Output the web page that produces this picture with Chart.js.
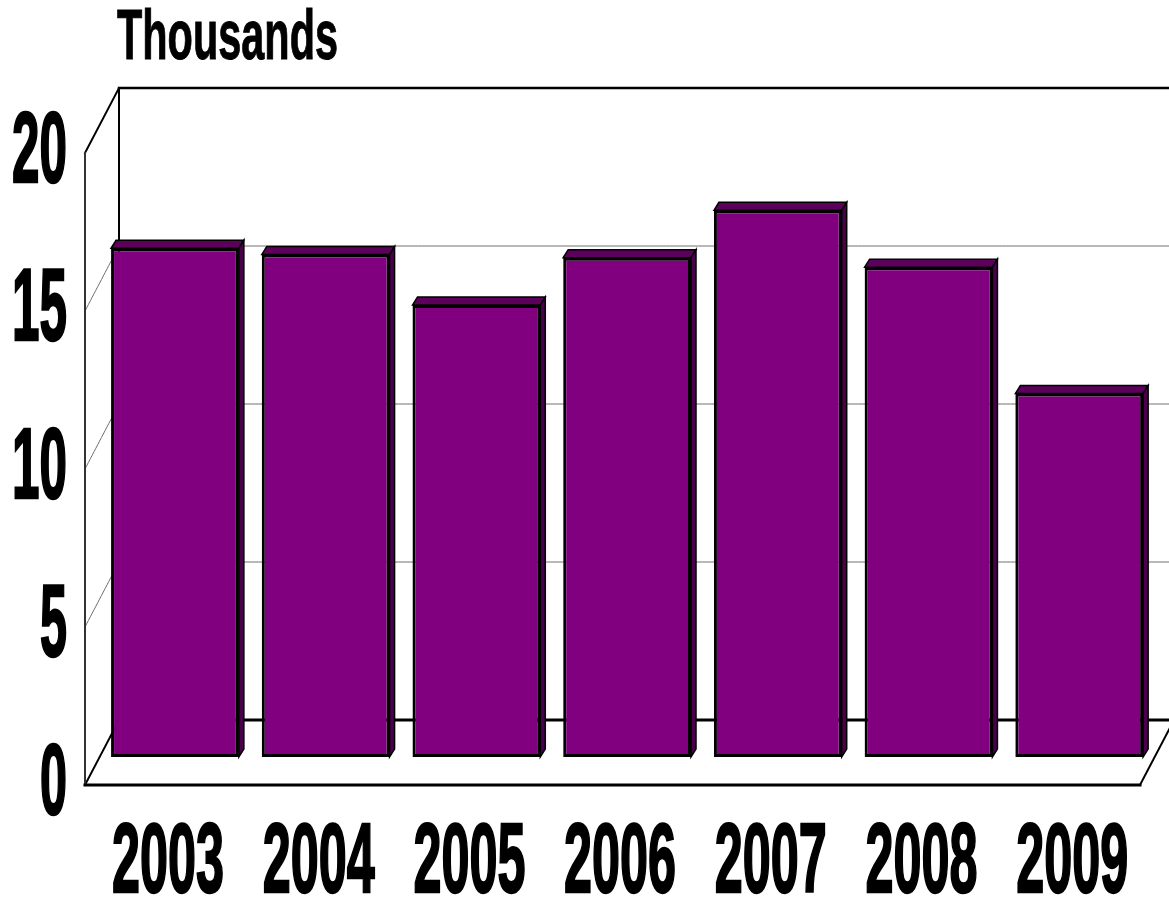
<!DOCTYPE html>
<html>
<head>
<meta charset="utf-8">
<script src="https://cdn.jsdelivr.net/npm/chart.js@4"></script>
<style>
  body { margin: 0; background: #fff; }
  #wrap { width: 1169px; height: 901px; position: relative; }
</style>
</head>
<body>
<div id="wrap"><canvas id="myChart"></canvas></div>
<script>
// data (thousands)
const years = ['2003', '2004', '2005', '2006', '2007', '2008', '2009'];
const values = [16.1, 15.9, 14.3, 15.8, 17.3, 15.5, 11.5];
const yTicks = [0, 5, 10, 15, 20];
const unitLabel = 'Thousands';

const canvas = document.getElementById('myChart');

// depth of the fake 3d box, relative to the plane the bars stand in
const front = { dx: -14.6, dy: 28 };
const back = { dx: 19.4, dy: -37 };
const barDepth = { dx: 5, dy: -8 };

function poly(ctx, pts) {
    ctx.beginPath();
    ctx.moveTo(pts[0][0], pts[0][1]);
    for (let i = 1; i < pts.length; i++) ctx.lineTo(pts[i][0], pts[i][1]);
}

function line(ctx, x1, y1, x2, y2, color, width, dash) {
    ctx.beginPath();
    ctx.setLineDash(dash || []);
    ctx.moveTo(x1, y1);
    ctx.lineTo(x2, y2);
    ctx.strokeStyle = color;
    ctx.lineWidth = width;
    ctx.stroke();
    ctx.setLineDash([]);
}

// tall condensed heavy text, squeezed to the size seen in the picture
function drawText(ctx, text, x, baseline, align, w, h, extra) {
    ctx.save();
    ctx.font = 'bold 100px "Liberation Sans Narrow", "Liberation Sans", Arial, sans-serif';
    const m = ctx.measureText(text);
    const sx = w / m.width;
    const sy = h / m.actualBoundingBoxAscent;
    ctx.translate(x, baseline);
    ctx.scale(sx, sy);
    ctx.textAlign = align;
    ctx.textBaseline = 'alphabetic';
    ctx.fillStyle = '#000';
    ctx.fillText(text, 0, 0);
    if (extra > 0) {
        ctx.strokeStyle = '#000';
        ctx.lineJoin = 'miter';
        ctx.lineWidth = extra / sx;
        ctx.strokeText(text, 0, 0);
    }
    ctx.restore();
}

const box3d = {
    id: 'box3d',
    beforeDatasetsDraw(chart) {
        const ctx = chart.ctx;
        const a = chart.chartArea;
        const y = chart.scales.y;
        const top = y.getPixelForValue(20);
        const zero = y.getPixelForValue(0);

        const fl = a.left + front.dx, fr = a.right + front.dx;
        const bl = a.left + back.dx, br = a.right + back.dx;

        ctx.save();
        ctx.lineCap = 'square';

        // grid lines: across the left wall, then along the back wall
        yTicks.forEach(v => {
            if (v === 0 || v === 20) return;
            const p = y.getPixelForValue(v);
            line(ctx, fl, p + front.dy, bl, p + back.dy, '#6e6e6e', 1, [3, 1]);
            line(ctx, bl, p + back.dy, br, p + back.dy, '#6e6e6e', 1, [3, 1]);
        });

        // back wall
        line(ctx, bl, top + back.dy, br, top + back.dy, '#000', 2.5);
        line(ctx, bl, top + back.dy, bl, zero + back.dy, '#000', 2);
        line(ctx, bl, zero + back.dy, br, zero + back.dy, '#000', 3);
        // left wall
        line(ctx, fl, top + front.dy, bl, top + back.dy, '#000', 2);
        line(ctx, fl, zero + front.dy, bl, zero + back.dy, '#000', 2);
        line(ctx, fl, top + front.dy, fl, zero + front.dy, '#333', 2);
        // floor
        line(ctx, fl, zero + front.dy, fr, zero + front.dy, '#000', 3);
        line(ctx, fr, zero + front.dy, br, zero + back.dy, '#000', 2);

        // top and side faces of the bars
        const meta = chart.getDatasetMeta(0);
        meta.data.forEach(bar => {
            const p = bar.getProps(['x', 'y', 'base', 'width'], true);
            const l = p.x - p.width / 2, r = p.x + p.width / 2;
            ctx.lineWidth = 1.5;
            ctx.strokeStyle = '#000';
            poly(ctx, [[l, p.y], [l + barDepth.dx, p.y + barDepth.dy], [r + barDepth.dx, p.y + barDepth.dy], [r, p.y]]);
            ctx.closePath();
            ctx.fillStyle = '#5c005c';
            ctx.fill();
            ctx.stroke();
            poly(ctx, [[r, p.y], [r + barDepth.dx, p.y + barDepth.dy], [r + barDepth.dx, p.base + barDepth.dy], [r, p.base]]);
            ctx.closePath();
            ctx.fillStyle = '#4a004a';
            ctx.fill();
            ctx.stroke();
        });
        ctx.restore();
    },
    afterDraw(chart) {
        const ctx = chart.ctx;
        const y = chart.scales.y;
        const x = chart.scales.x;

        yTicks.forEach(v => {
            const p = y.getPixelForValue(v);
            drawText(ctx, String(v), 67, p + 57, 'right', 28 * String(v).length - 1, 70, 1.2);
        });
        years.forEach((yr, i) => {
            drawText(ctx, yr, x.getPixelForValue(i) - 7, 892, 'center', 112, 69, 1.2);
        });
        drawText(ctx, unitLabel, 117, 59, 'left', 221, 51, 0.6);
    }
};

const myChart = new Chart(canvas, {
    type: 'bar',
    data: {
        labels: years,
        datasets: [{
            label: unitLabel,
            data: values,
            backgroundColor: '#800080',
            borderColor: '#000',
            borderWidth: 3,
            borderSkipped: false,
            categoryPercentage: 1,
            barPercentage: 0.848
        }]
    },
    options: {
        responsive: true,
        maintainAspectRatio: false,
        animation: false,
        layout: {
            padding: { left: 99.6, right: 14.4, top: 125, bottom: 144 }
        },
        plugins: {
            legend: { display: false },
            tooltip: { enabled: false }
        },
        scales: {
            x: { display: false },
            y: { display: false, min: 0, max: 20 }
        }
    },
    plugins: [box3d]
});
</script>
</body>
</html>
